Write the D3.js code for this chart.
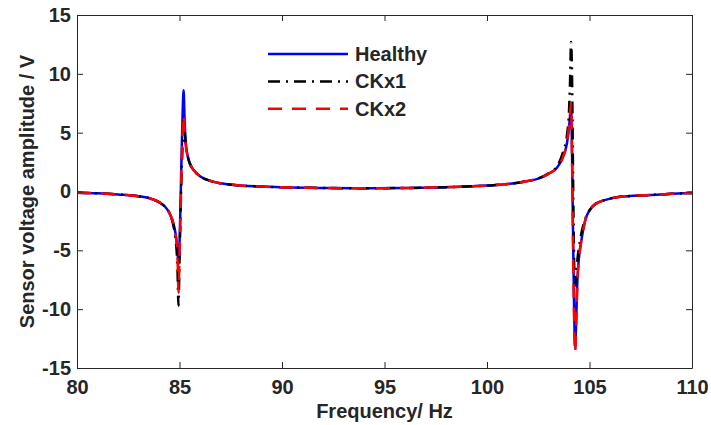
<!DOCTYPE html>
<html>
<head>
<meta charset="utf-8">
<script src="https://cdn.jsdelivr.net/npm/d3@7"></script>
<style>
  body { margin: 0; background: #fff; }
  text { font-family: "Liberation Sans", Arial, sans-serif; font-weight: bold; fill: #262626; }
</style>
</head>
<body>
<div id="chart"></div>
<script>
const width = 711;
const height = 425;

// frequency points (Hz), denser around the two resonances
const freq = [80, 81, 82, 83, 83.5, 84, 84.3, 84.5, 84.7, 84.8, 84.9, 84.95, 85, 85.05, 85.1, 85.15, 85.2, 85.25, 85.3, 85.4,
  85.5, 85.7, 86, 86.5, 87, 88, 89, 90, 92, 94, 96, 98, 100, 101, 102, 102.5, 103, 103.4, 103.7, 103.9,
  104, 104.05, 104.1, 104.15, 104.2, 104.25, 104.3, 104.35, 104.4, 104.5, 104.6, 104.8, 105, 105.3, 105.7, 106.3, 107, 108, 109, 110];

const healthy = [-0.1, -0.15, -0.25, -0.4, -0.55, -0.9, -1.3, -1.8, -2.7, -3.5, -5.0, -6.2, -4.5, -1.0, 3.0, 6.5, 8.6, 6.0, 4.3, 3.0,
  2.4, 1.8, 1.3, 0.9, 0.7, 0.5, 0.42, 0.36, 0.3, 0.27, 0.3, 0.37, 0.5, 0.63, 0.9, 1.1, 1.5, 2.0, 2.9, 4.1,
  5.4, 6.4, 7.2, 3.0, -4.0, -10.0, -13.3, -11.0, -8.0, -5.4, -4.2, -2.4, -1.6, -1.05, -0.75, -0.5, -0.38, -0.3, -0.2, -0.12];

const ckx1 = [-0.1, -0.15, -0.25, -0.4, -0.55, -0.9, -1.3, -1.8, -2.9, -3.9, -6.5, -9.7, -6.0, -2.0, 1.5, 3.8, 4.9, 5.0, 4.0, 3.0,
  2.4, 1.8, 1.3, 0.9, 0.7, 0.5, 0.42, 0.36, 0.3, 0.27, 0.3, 0.37, 0.5, 0.63, 0.9, 1.1, 1.55, 2.1, 3.3, 4.8,
  6.8, 9.2, 12.7, 9.5, 1.0, -6.0, -8.0, -7.2, -6.0, -4.6, -3.6, -2.3, -1.6, -1.05, -0.75, -0.5, -0.38, -0.3, -0.2, -0.12];

const ckx2 = [-0.1, -0.15, -0.25, -0.4, -0.55, -0.9, -1.3, -1.8, -2.7, -3.5, -5.3, -8.6, -5.5, -1.8, 2.0, 4.8, 6.5, 5.2, 4.0, 3.0,
  2.4, 1.8, 1.3, 0.9, 0.7, 0.5, 0.42, 0.36, 0.3, 0.27, 0.3, 0.37, 0.5, 0.63, 0.9, 1.1, 1.5, 2.0, 2.9, 4.2,
  5.6, 6.6, 7.5, 2.5, -5.0, -11.0, -13.7, -11.2, -8.2, -5.5, -4.2, -2.4, -1.6, -1.05, -0.75, -0.5, -0.38, -0.3, -0.2, -0.12];

const xTicks = [80, 85, 90, 95, 100, 105, 110];
const yTicks = [-15, -10, -5, 0, 5, 10, 15];

const series = [
  { name: "Healthy", values: healthy, color: "#0000ff", dash: null },
  { name: "CKx1", values: ckx1, color: "#000000", dash: "12,6,2,6" },
  { name: "CKx2", values: ckx2, color: "#ff0000", dash: "14,10" }
];

const margin = { left: 77, right: 19, top: 15, bottom: 57 };

const svg = d3.select("#chart")
    .append("svg")
    .attr("width", width)
    .attr("height", height);

const xScale = d3.scaleLinear()
    .domain([80, 110])
    .range([margin.left, width - margin.right]);

const yScale = d3.scaleLinear()
    .domain([-15, 15])
    .range([height - margin.bottom, margin.top]);

svg.append("clipPath").attr("id", "clip")
    .append("rect")
    .attr("x", margin.left)
    .attr("y", margin.top)
    .attr("width", xScale(110) - xScale(80))
    .attr("height", yScale(-15) - yScale(15));

// curves
const line = d3.line()
    .x((d, i) => xScale(freq[i]))
    .y(d => yScale(d))
    .curve(d3.curveMonotoneX);

series.forEach(s => {
    svg.append("path")
        .datum(s.values)
        .attr("clip-path", "url(#clip)")
        .attr("fill", "none")
        .attr("stroke", s.color)
        .attr("stroke-width", 2.5)
        .attr("stroke-dasharray", s.dash)
        .attr("d", line);
});

// axes (ticks inside, mirrored on top/right like a boxed plot)
function styleAxis(g) {
    g.select(".domain").attr("stroke", "#262626").attr("stroke-width", 1);
    g.selectAll(".tick line").attr("stroke", "#262626");
    g.selectAll(".tick text")
        .attr("fill", "#262626")
        .style("font-size", "20px")
        .style("font-family", "'Liberation Sans', Arial, sans-serif")
        .style("font-weight", "bold");
}

const plainNum = d => String(d);  // hyphen minus, as in the original

svg.append("g")
    .attr("transform", `translate(0,${yScale(-15)})`)
    .call(d3.axisBottom(xScale).tickValues(xTicks).tickFormat(plainNum).tickSizeInner(-6).tickSizeOuter(0).tickPadding(12))
    .call(styleAxis);

svg.append("g")
    .attr("transform", `translate(0,${yScale(15)})`)
    .call(d3.axisTop(xScale).tickValues(xTicks).tickSizeInner(-6).tickSizeOuter(0).tickFormat(""))
    .call(styleAxis);

svg.append("g")
    .attr("transform", `translate(${xScale(80)},0)`)
    .call(d3.axisLeft(yScale).tickValues(yTicks).tickFormat(plainNum).tickSizeInner(-6).tickSizeOuter(0).tickPadding(6))
    .call(styleAxis);

svg.append("g")
    .attr("transform", `translate(${xScale(110)},0)`)
    .call(d3.axisRight(yScale).tickValues(yTicks).tickSizeInner(-6).tickSizeOuter(0).tickFormat(""))
    .call(styleAxis);

// axis labels
svg.append("text")
    .attr("text-anchor", "middle")
    .attr("x", (xScale(80) + xScale(110)) / 2)
    .attr("y", 418)
    .style("font-size", "20px")
    .text("Frequency/ Hz");

svg.append("text")
    .attr("text-anchor", "middle")
    .attr("transform", "rotate(-90)")
    .attr("x", -yScale(0))
    .attr("y", 34)
    .style("font-size", "20px")
    .text("Sensor voltage amplitude / V");

// legend
const legend = svg.selectAll(".legend")
    .data(series)
    .enter()
    .append("g")
    .attr("class", "legend")
    .attr("transform", (d, i) => `translate(268, ${54 + i * 27.4})`);

legend.append("line")
    .attr("x1", 0)
    .attr("x2", 80)
    .attr("y1", 0)
    .attr("y2", 0)
    .attr("stroke", d => d.color)
    .attr("stroke-width", 2.5)
    .attr("stroke-dasharray", d => d.dash);

legend.append("text")
    .attr("x", 87)
    .attr("y", 0)
    .attr("dy", "0.35em")
    .style("font-size", "20px")
    .text(d => d.name);
</script>
</body>
</html>
